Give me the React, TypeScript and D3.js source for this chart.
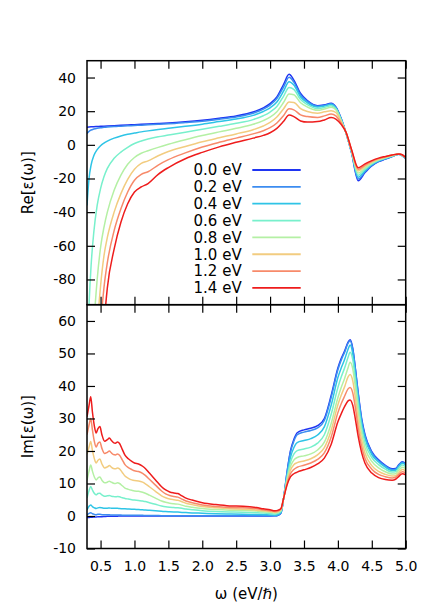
import { useEffect, useRef } from 'react'
import * as d3 from 'd3'

// Re/Im of the dielectric function, one curve per energy label.
const LABELS = ['0.0 eV', '0.2 eV', '0.4 eV', '0.6 eV', '0.8 eV', '1.0 eV', '1.2 eV', '1.4 eV']
const COLORS = ['#1f35f2', '#3c8cf0', '#2ec4e6', '#78f0cc', '#b4f0a4', '#f2cc80', '#f78a6a', '#ee1c1c']

const X_TICKS = [0.5, 1.0, 1.5, 2.0, 2.5, 3.0, 3.5, 4.0, 4.5, 5.0]
const RE_TICKS = [-80, -60, -40, -20, 0, 20, 40]
const IM_TICKS = [-10, 0, 10, 20, 30, 40, 50, 60]

// ---- Re[eps(w)] ----
const omegaRe = [0.30, 0.33, 0.36, 0.40, 0.45, 0.50, 0.55, 0.60, 0.70, 0.80,
  0.90, 1.00, 1.10, 1.20, 1.35, 1.50, 1.75, 2.00, 2.25, 2.50,
  2.75, 2.90, 3.00, 3.10, 3.20, 3.28, 3.35, 3.45, 3.55, 3.70,
  3.80, 3.90, 3.97, 4.05, 4.12, 4.20, 4.30, 4.40, 4.50, 4.60,
  4.70, 4.80, 4.90, 4.95, 5.00]
const reE00 = [10.5, 10.6, 10.7, 10.8, 10.9, 11.0, 11.1, 11.2, 11.4, 11.6,
  11.8, 12.0, 12.2, 12.4, 12.7, 13.0, 13.7, 14.6, 15.8, 17.2,
  19.5, 22.0, 24.5, 28.5, 36.0, 41.9, 38.5, 30.5, 26.3, 23.3,
  23.8, 24.7, 22.5, 15.5, 7.0, -4.5, -21.3, -16.5, -12.5, -10.0,
  -8.5, -7.0, -5.6, -6.5, -8.0]
const reE02 = [6.8, 8.0, 8.8, 9.4, 9.9, 10.2, 10.4, 10.6, 10.9, 11.1,
  11.3, 11.5, 11.7, 11.9, 12.2, 12.5, 13.2, 14.0, 15.2, 16.6,
  18.8, 21.2, 23.6, 27.5, 34.5, 40.1, 37.3, 29.6, 25.8, 23.0,
  23.5, 24.4, 22.3, 15.3, 7.0, -4.3, -20.3, -16.0, -12.2, -9.8,
  -8.3, -6.9, -5.6, -6.5, -8.0]
const reE04 = [-36, -20, -12, -6.5, -2.8, -0.5, 1.0, 2.2, 4.0, 5.3,
  6.3, 7.0, 7.7, 8.3, 9.1, 9.8, 11.0, 12.3, 13.8, 15.3,
  17.5, 19.8, 22.0, 25.5, 32.0, 37.5, 35.5, 28.4, 25.0, 22.5,
  23.0, 24.0, 22.0, 15.0, 7.0, -4.0, -19.2, -15.3, -11.8, -9.5,
  -8.1, -6.8, -5.6, -6.4, -8.0]
const reE06 = [-130, -95, -72, -52, -36, -26, -19, -14, -8, -4.3,
  -1.5, 0.8, 2.3, 3.5, 4.8, 5.8, 7.5, 9.3, 11.0, 12.8,
  15.0, 17.3, 19.5, 22.8, 29.0, 34.1, 33.0, 26.9, 23.9, 21.5,
  22.2, 23.3, 21.5, 14.6, 7.1, -3.8, -18.0, -14.5, -11.3, -9.2,
  -7.9, -6.7, -5.6, -6.3, -7.9]
const reE08 = [-200, -170, -140, -108, -80, -61, -49, -40, -27, -18,
  -11.5, -7.5, -5.0, -3.5, -1.5, 0.3, 3.0, 5.5, 7.7, 9.8,
  12.2, 14.4, 16.5, 19.7, 25.3, 30.2, 29.8, 25.0, 22.5, 20.5,
  21.3, 22.3, 20.8, 14.2, 7.2, -3.5, -16.8, -13.7, -10.8, -8.9,
  -7.7, -6.5, -5.5, -6.2, -7.8]
const reE10 = [-260, -220, -190, -150, -110, -84, -66, -55, -40, -29,
  -20.5, -14.5, -11.0, -9.5, -6.5, -4.0, -1.0, 1.8, 4.2, 6.5,
  9.0, 11.2, 13.3, 16.5, 21.5, 25.4, 25.2, 21.5, 19.8, 18.8,
  19.6, 20.3, 19.2, 13.6, 7.3, -3.2, -15.5, -12.8, -10.3, -8.6,
  -7.4, -6.3, -5.5, -6.1, -7.7]
const reE12 = [-320, -280, -240, -190, -140, -108, -85, -70, -51, -38,
  -28, -21, -17.5, -16, -12, -8.8, -4.8, -1.3, 1.5, 4.0,
  6.5, 8.4, 10.2, 13.0, 17.5, 21.4, 20.8, 17.8, 16.8, 16.3,
  17.2, 18.3, 17.2, 12.8, 7.4, -2.9, -14.5, -12.0, -9.8, -8.2,
  -7.1, -6.1, -5.4, -6.0, -7.6]
const reE14 = [-400, -350, -300, -240, -180, -140, -108, -85, -62, -46,
  -35, -28, -25, -23, -17.5, -13.5, -8.3, -4.5, -1.2, 1.5,
  4.0, 5.6, 7.2, 9.8, 14.0, 17.7, 16.8, 14.2, 13.5, 13.8,
  14.8, 16.2, 15.3, 12.0, 7.5, -2.6, -13.6, -11.3, -9.4, -7.9,
  -6.9, -6.0, -5.4, -5.9, -7.5]

// ---- Im[eps(w)] ----
const omegaIm = [0.30, 0.33, 0.355, 0.38, 0.41, 0.435, 0.46, 0.49, 0.52, 0.56,
  0.60, 0.63, 0.66, 0.69, 0.72, 0.75, 0.78, 0.82, 0.86, 0.91,
  0.96, 1.00, 1.06, 1.12, 1.16, 1.22, 1.31, 1.40, 1.46, 1.52,
  1.58, 1.64, 1.70, 1.76, 1.85, 2.00, 2.20, 2.40, 2.60, 2.80,
  2.90, 3.00, 3.07, 3.12, 3.16, 3.20, 3.25, 3.30, 3.35, 3.40,
  3.50, 3.60, 3.70, 3.80, 3.90, 4.00, 4.05, 4.10, 4.15, 4.18,
  4.22, 4.26, 4.30, 4.35, 4.40, 4.50, 4.60, 4.70, 4.80, 4.85,
  4.90, 4.95, 5.00]
const imE00 = [-0.5, -0.45, -0.4, -0.35, -0.3, -0.3, -0.25, -0.2, -0.2, -0.15,
  -0.1, -0.1, -0.1, -0.05, -0.05, -0.05, 0, 0, 0, 0,
  0, 0, 0, 0, 0, 0, 0, 0, 0, 0,
  0, 0, 0, 0, 0, 0, 0, 0, 0, 0,
  0, 0.0, 0.05, 0.25, 0.9, 5.5, 13.5, 20.0, 23.5, 25.6,
  26.5, 27.0, 27.8, 30.0, 37.0, 45.5, 48.5, 50.8, 53.5, 54.2,
  51.5, 45.0, 37.8, 30.0, 25.0, 19.8, 17.3, 15.6, 14.5, 14.6,
  15.8, 16.7, 16.2]
const imE02 = [0.3, 0.8, 1.0, 0.7, 0.5, 0.4, 0.5, 0.5, 0.4, 0.35,
  0.35, 0.35, 0.3, 0.3, 0.3, 0.3, 0.3, 0.25, 0.25, 0.2,
  0.2, 0.2, 0.2, 0.2, 0.15, 0.15, 0.15, 0.1, 0.1, 0.1,
  0.1, 0.1, 0.1, 0.1, 0.1, 0.1, 0.05, 0.05, 0.05, 0.05,
  0.05, 0.05, 0.05, 0.3, 0.95, 5.5, 13.3, 19.6, 23.0, 25.0,
  25.8, 26.3, 27.1, 29.4, 36.4, 45.0, 48.0, 50.4, 53.2, 53.9,
  51.2, 44.7, 37.4, 29.6, 24.6, 19.5, 17.0, 15.4, 14.3, 14.4,
  15.6, 16.5, 16.0]
const imE04 = [1.9, 3.0, 3.4, 2.9, 2.5, 2.3, 2.5, 2.6, 2.5, 2.4,
  2.4, 2.45, 2.4, 2.35, 2.35, 2.35, 2.3, 2.25, 2.2, 2.15,
  2.1, 2.05, 2.0, 1.9, 1.85, 1.75, 1.6, 1.45, 1.35, 1.3,
  1.25, 1.2, 1.1, 1.05, 0.95, 0.85, 0.7, 0.6, 0.55, 0.45,
  0.4, 0.3, 0.25, 0.45, 1.1, 5.5, 12.5, 18.0, 21.0, 22.6,
  23.2, 23.8, 24.9, 27.4, 34.0, 42.6, 45.6, 48.2, 51.3, 52.6,
  49.8, 43.0, 36.2, 28.6, 23.8, 18.9, 16.6, 15.0, 14.0, 14.1,
  15.3, 16.2, 15.7]
const imE06 = [5.5, 7.8, 9.1, 8.0, 6.9, 6.5, 6.9, 7.0, 6.5, 6.1,
  6.2, 6.3, 6.1, 6.0, 5.9, 6.0, 5.9, 5.6, 5.4, 5.2,
  5.0, 4.9, 4.8, 4.6, 4.45, 4.1, 3.6, 3.1, 2.85, 2.7,
  2.6, 2.5, 2.35, 2.15, 1.95, 1.65, 1.4, 1.25, 1.15, 1.0,
  0.9, 0.75, 0.6, 0.8, 1.4, 5.5, 11.7, 16.5, 19.0, 20.1,
  20.6, 21.2, 22.4, 25.0, 31.2, 39.5, 42.8, 45.6, 48.8, 50.4,
  48.0, 41.5, 34.5, 27.2, 22.5, 18.0, 15.8, 14.4, 13.5, 13.6,
  14.8, 15.7, 15.2]
const imE08 = [11.0, 13.8, 15.7, 13.8, 11.9, 11.1, 11.7, 12.0, 11.0, 10.2,
  10.4, 10.7, 10.4, 10.1, 10.0, 10.2, 10.0, 9.3, 8.6, 8.2,
  7.9, 7.7, 7.6, 7.3, 7.0, 6.4, 5.5, 4.6, 4.2, 3.9,
  3.75, 3.65, 3.35, 3.0, 2.7, 2.3, 2.0, 1.8, 1.7, 1.5,
  1.3, 1.15, 0.95, 1.15, 1.7, 5.5, 11.0, 15.2, 17.2, 18.0,
  18.5, 19.1, 20.3, 22.7, 28.4, 36.4, 39.6, 42.4, 45.6, 47.3,
  45.2, 39.2, 32.2, 25.5, 21.0, 16.8, 14.8, 13.6, 12.9, 13.0,
  14.1, 15.0, 14.6]
const imE10 = [19.0, 21.2, 22.9, 20.2, 17.5, 16.3, 17.1, 17.5, 16.0, 14.8,
  15.1, 15.5, 15.0, 14.6, 14.5, 14.8, 14.5, 13.4, 12.3, 11.6,
  11.1, 10.9, 10.8, 10.4, 9.9, 9.0, 7.6, 6.2, 5.6, 5.2,
  5.0, 4.85, 4.4, 3.9, 3.5, 2.9, 2.5, 2.2, 2.1, 1.8,
  1.6, 1.4, 1.15, 1.35, 1.9, 5.5, 10.4, 14.1, 15.8, 16.4,
  16.9, 17.6, 18.8, 21.0, 26.3, 34.2, 37.2, 39.8, 42.8, 43.5,
  41.5, 36.0, 29.5, 23.4, 19.3, 15.5, 13.7, 12.8, 12.3, 12.4,
  13.4, 14.3, 13.9]
const imE12 = [25.0, 28.0, 30.0, 26.5, 22.8, 21.2, 22.3, 22.8, 20.8, 19.2,
  19.6, 20.0, 19.4, 18.9, 18.8, 19.1, 18.7, 17.3, 15.8, 14.9,
  14.3, 13.9, 13.7, 13.1, 12.5, 11.3, 9.5, 7.7, 6.8, 6.3,
  6.0, 5.8, 5.2, 4.6, 4.1, 3.4, 2.9, 2.6, 2.5, 2.2,
  1.9, 1.6, 1.35, 1.55, 2.1, 5.5, 9.9, 13.0, 14.3, 15.0,
  15.6, 16.3, 17.4, 19.4, 24.2, 31.8, 34.6, 36.9, 39.1, 39.5,
  37.8, 33.0, 26.9, 21.4, 17.7, 14.4, 12.8, 12.1, 11.7, 11.9,
  12.8, 13.6, 13.3]
const imE14 = [30.5, 34.0, 36.7, 32.0, 27.5, 25.5, 26.8, 27.5, 25.0, 23.0,
  23.5, 24.0, 23.2, 22.6, 22.4, 22.8, 22.3, 20.5, 18.7, 17.6,
  16.8, 16.3, 16.0, 15.3, 14.6, 13.2, 11.1, 9.0, 8.0, 7.4,
  7.1, 6.9, 6.2, 5.5, 4.9, 4.1, 3.5, 3.1, 3.0, 2.6,
  2.2, 1.9, 1.6, 1.8, 2.3, 5.5, 9.5, 12.0, 13.0, 13.5,
  14.2, 14.9, 16.0, 17.8, 22.0, 29.0, 31.5, 33.7, 35.4, 35.7,
  34.0, 29.5, 24.4, 19.5, 16.2, 13.2, 11.8, 11.2, 11.0, 11.3,
  12.2, 13.0, 12.7]

const RE_SERIES = [reE00, reE02, reE04, reE06, reE08, reE10, reE12, reE14]
const IM_SERIES = [imE00, imE02, imE04, imE06, imE08, imE10, imE12, imE14]

const FONT = '"DejaVu Sans", sans-serif'

export default function App() {
  const ref = useRef<SVGSVGElement>(null)

  useEffect(() => {
    const svg = d3.select(ref.current)
    svg.selectAll('*').remove()

    const L = 87, R = 405.7, T = 60.7, MID = 304.7, B = 548.5
    const x = d3.scaleLinear().domain([0.3, 5.0]).range([L, R])
    const yRe = d3.scaleLinear().domain([-95, 50]).range([MID, T])
    const yIm = d3.scaleLinear().domain([-10, 65]).range([B, MID])

    svg.append('rect').attr('width', 436).attr('height', 610).attr('fill', '#fff')

    function panel(id: string, y: d3.ScaleLinear<number, number>, top: number, bottom: number,
      ticks: number[], omega: number[], series: number[][], label: string, xLabels: boolean) {
      svg.append('clipPath').attr('id', id)
        .append('rect').attr('x', L).attr('y', top).attr('width', R - L).attr('height', bottom - top)

      const line = d3.line<[number, number]>()
        .defined(d => d[1] != null && !isNaN(d[1]))
        .x(d => x(d[0])).y(d => y(d[1]))
        .curve(d3.curveMonotoneX)

      const g = svg.append('g').attr('clip-path', `url(#${id})`)
      series.forEach((vals, i) => {
        const pts = omega.map((w, k) => [w, vals[k]] as [number, number])
        g.append('path').attr('d', line(pts)).attr('fill', 'none')
          .attr('stroke', COLORS[i]).attr('stroke-width', 1.5).attr('stroke-linejoin', 'round')
      })

      const style = (s: any) => {
        s.select('.domain').remove()
        s.selectAll('line').attr('stroke', '#000').attr('stroke-width', 1.2)
        s.selectAll('text').attr('fill', '#000').attr('font-size', 14).attr('font-family', FONT)
      }
      svg.append('g').attr('transform', `translate(${L},0)`)
        .call(d3.axisLeft(y).tickValues(ticks).tickSizeInner(-8).tickSizeOuter(0).tickPadding(11)
          .tickFormat(d => String(d)))
        .call(style)
      svg.append('g').attr('transform', `translate(${R},0)`)
        .call(d3.axisRight(y).tickValues(ticks).tickSizeInner(-8).tickSizeOuter(0).tickFormat(() => ''))
        .call(style)
      svg.append('g').attr('transform', `translate(0,${top})`)
        .call(d3.axisTop(x).tickValues(X_TICKS).tickSizeInner(-8).tickSizeOuter(0).tickFormat(() => ''))
        .call(style)
      svg.append('g').attr('transform', `translate(0,${bottom})`)
        .call(d3.axisBottom(x).tickValues(X_TICKS).tickSizeInner(-8).tickSizeOuter(0).tickPadding(13)
          .tickFormat(d => xLabels ? d3.format('.1f')(d as number) : ''))
        .call(style)

      svg.append('rect').attr('x', L).attr('y', top).attr('width', R - L).attr('height', bottom - top)
        .attr('fill', 'none').attr('stroke', '#000').attr('stroke-width', 1.5)

      svg.append('text').attr('transform', `translate(33,${(top + bottom) / 2}) rotate(-90)`)
        .attr('text-anchor', 'middle').attr('font-size', 15).attr('font-family', FONT)
        .text(label)
    }

    panel('clip-re', yRe, T, MID, RE_TICKS, omegaRe, RE_SERIES, 'Re[ε(ω)]', false)
    panel('clip-im', yIm, MID, B, IM_TICKS, omegaIm, IM_SERIES, 'Im[ε(ω)]', true)

    // legend inside the upper panel
    const lg = svg.append('g')
    LABELS.forEach((lab, i) => {
      const cy = 170 + i * 16.85
      lg.append('text').attr('x', 241.7).attr('y', cy + 5.3).attr('text-anchor', 'end')
        .attr('font-size', 15).attr('font-family', FONT).text(lab)
      lg.append('line').attr('x1', 252.3).attr('x2', 300.7).attr('y1', cy).attr('y2', cy)
        .attr('stroke', COLORS[i]).attr('stroke-width', 1.8)
    })

    svg.append('text').attr('x', (L + R) / 2).attr('y', 599).attr('text-anchor', 'middle')
      .attr('font-size', 15).attr('font-family', FONT).text('ω (eV/ℏ)')
  }, [])

  return (
    <div style={{ position: 'absolute', left: 0, top: 0 }}>
      <svg ref={ref} width={436} height={610} />
    </div>
  )
}
